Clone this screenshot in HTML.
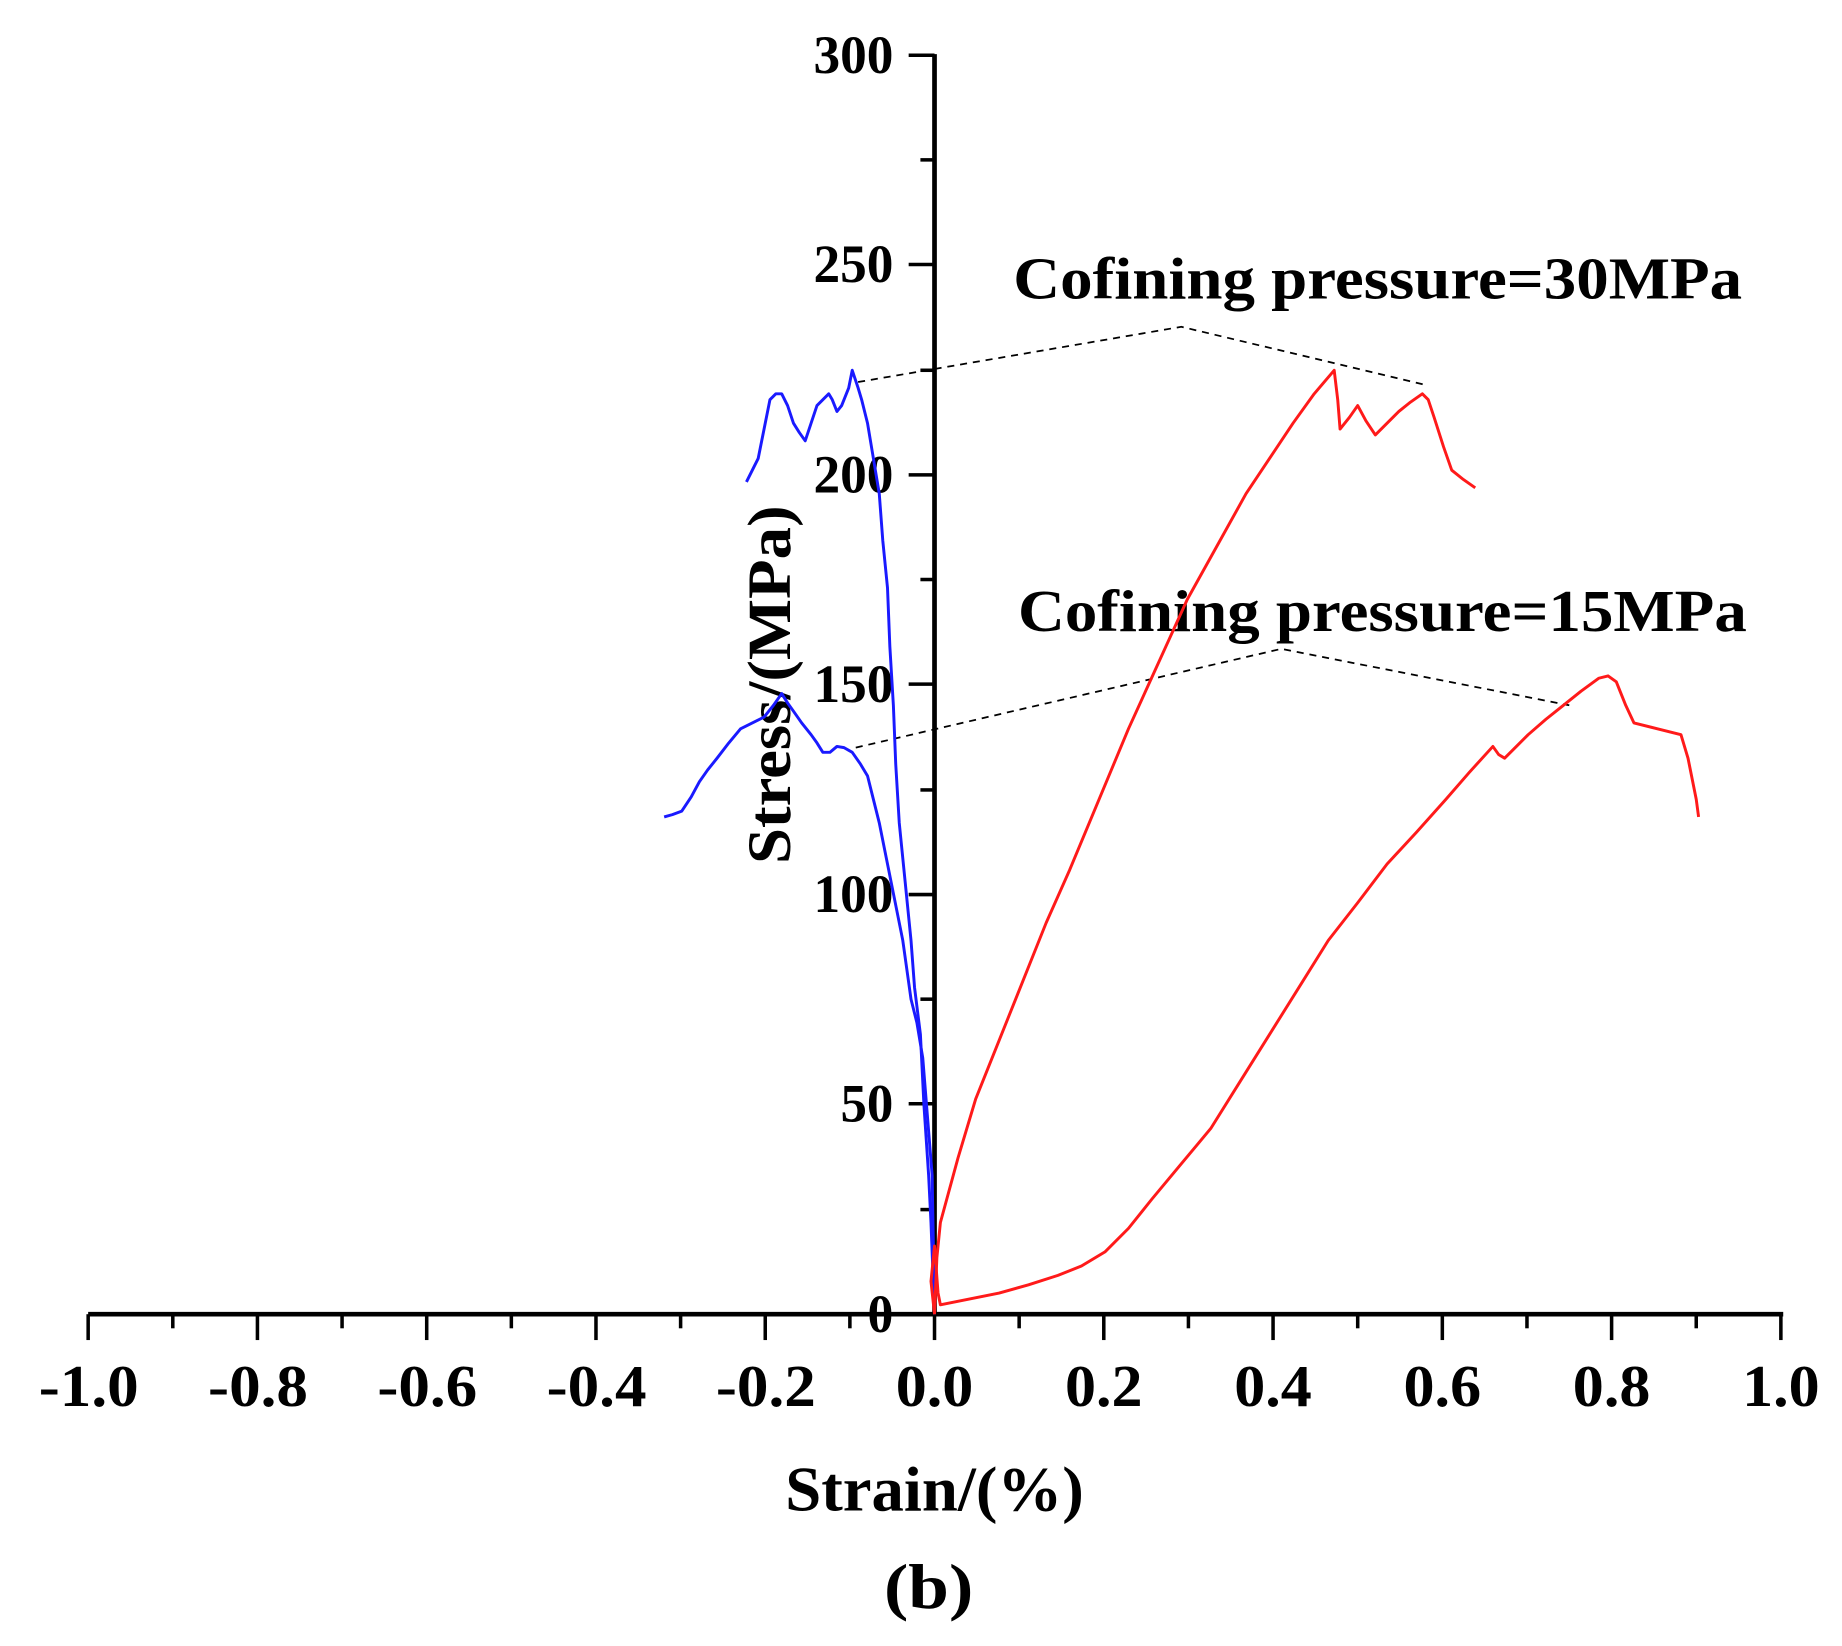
<!DOCTYPE html>
<html><head><meta charset="utf-8"><style>
html,body{margin:0;padding:0;background:#fff;}
svg{display:block;}
text{font-family:"Liberation Serif",serif;font-weight:bold;fill:#000;}
</style></head><body>
<svg width="1842" height="1646" viewBox="0 0 1567 1400" preserveAspectRatio="xMinYMin meet" xmlns="http://www.w3.org/2000/svg">
<rect width="1567" height="1400" fill="#fff"/>
<line x1="75" y1="1118" x2="1517" y2="1118" stroke="#000" stroke-width="4"/>
<line x1="795" y1="46" x2="795" y2="1120" stroke="#000" stroke-width="4"/>
<g stroke="#000" stroke-width="3">
<line x1="75" y1="1118" x2="75" y2="1140"/><line x1="147" y1="1118" x2="147" y2="1130"/>
<line x1="219" y1="1118" x2="219" y2="1140"/><line x1="291" y1="1118" x2="291" y2="1130"/>
<line x1="363" y1="1118" x2="363" y2="1140"/><line x1="435" y1="1118" x2="435" y2="1130"/>
<line x1="507" y1="1118" x2="507" y2="1140"/><line x1="579" y1="1118" x2="579" y2="1130"/>
<line x1="651" y1="1118" x2="651" y2="1140"/><line x1="723" y1="1118" x2="723" y2="1130"/>
<line x1="795" y1="1118" x2="795" y2="1140"/><line x1="867" y1="1118" x2="867" y2="1130"/>
<line x1="939" y1="1118" x2="939" y2="1140"/><line x1="1011" y1="1118" x2="1011" y2="1130"/>
<line x1="1083" y1="1118" x2="1083" y2="1140"/><line x1="1155" y1="1118" x2="1155" y2="1130"/>
<line x1="1227" y1="1118" x2="1227" y2="1140"/><line x1="1299" y1="1118" x2="1299" y2="1130"/>
<line x1="1371" y1="1118" x2="1371" y2="1140"/><line x1="1443" y1="1118" x2="1443" y2="1130"/>
<line x1="1515" y1="1118" x2="1515" y2="1140"/>
<line x1="773" y1="47" x2="795" y2="47"/><line x1="783" y1="136" x2="795" y2="136"/>
<line x1="773" y1="225" x2="795" y2="225"/><line x1="783" y1="315" x2="795" y2="315"/>
<line x1="773" y1="404" x2="795" y2="404"/><line x1="783" y1="493" x2="795" y2="493"/>
<line x1="773" y1="582" x2="795" y2="582"/><line x1="783" y1="672" x2="795" y2="672"/>
<line x1="773" y1="761" x2="795" y2="761"/><line x1="783" y1="850" x2="795" y2="850"/>
<line x1="773" y1="939" x2="795" y2="939"/><line x1="783" y1="1029" x2="795" y2="1029"/>
</g>
<g font-size="50">
<text x="33" y="1196" textLength="85" lengthAdjust="spacingAndGlyphs">-1.0</text>
<text x="177" y="1196" textLength="85" lengthAdjust="spacingAndGlyphs">-0.8</text>
<text x="321" y="1196" textLength="85" lengthAdjust="spacingAndGlyphs">-0.6</text>
<text x="465" y="1196" textLength="85" lengthAdjust="spacingAndGlyphs">-0.4</text>
<text x="609" y="1196" textLength="85" lengthAdjust="spacingAndGlyphs">-0.2</text>
<text x="762" y="1196" textLength="66" lengthAdjust="spacingAndGlyphs">0.0</text>
<text x="906" y="1196" textLength="66" lengthAdjust="spacingAndGlyphs">0.2</text>
<text x="1050" y="1196" textLength="66" lengthAdjust="spacingAndGlyphs">0.4</text>
<text x="1194" y="1196" textLength="66" lengthAdjust="spacingAndGlyphs">0.6</text>
<text x="1338" y="1196" textLength="66" lengthAdjust="spacingAndGlyphs">0.8</text>
<text x="1482" y="1196" textLength="66" lengthAdjust="spacingAndGlyphs">1.0</text>
</g>
<g font-size="46">
<text x="692" y="62" textLength="68" lengthAdjust="spacingAndGlyphs">300</text>
<text x="692" y="240" textLength="68" lengthAdjust="spacingAndGlyphs">250</text>
<text x="692" y="419" textLength="68" lengthAdjust="spacingAndGlyphs">200</text>
<text x="692" y="597" textLength="68" lengthAdjust="spacingAndGlyphs">150</text>
<text x="692" y="776" textLength="68" lengthAdjust="spacingAndGlyphs">100</text>
<text x="715" y="954" textLength="45" lengthAdjust="spacingAndGlyphs">50</text>
<text x="738" y="1133" textLength="22" lengthAdjust="spacingAndGlyphs">0</text>
</g>
<text x="668" y="1285" font-size="54" textLength="254" lengthAdjust="spacingAndGlyphs">Strain/(%)</text>
<text x="752" y="1368" font-size="54" textLength="76" lengthAdjust="spacingAndGlyphs">(b)</text>
<text transform="translate(672,735) rotate(-90)" font-size="52" textLength="305" lengthAdjust="spacingAndGlyphs">Stress/(MPa)</text>
<text x="862" y="254" font-size="50" textLength="620" lengthAdjust="spacingAndGlyphs">Cofining pressure=30MPa</text>
<text x="866" y="537" font-size="50" textLength="620" lengthAdjust="spacingAndGlyphs">Cofining pressure=15MPa</text>
<g stroke="#000" stroke-width="1.5" stroke-dasharray="6,5" fill="none">
<polyline points="730,325 1005,278 1215,328"/>
<polyline points="728,636 1090,552 1335,600"/>
</g>
<g fill="none" stroke-width="2.5" stroke-linejoin="round">
<polyline stroke="#1a1aff" points="795,1118 792,1040 790,1000 786,940 783,880 778,840 775,800 770,750 765,700 762,650 760,600 757,550 755,500 751,460 748,420 743,390 738,360 733,340 730,330 725,315 722,330 720,335 716,345 712,350 708,340 705,335 700,340 695,345 690,360 685,375 680,368 675,360 670,345 665,335 660,335 655,340 650,365 645,390 640,400 635,410"/>
<polyline stroke="#1a1aff" points="795,1118 793,1000 789,950 785,900 780,870 775,850 768,800 760,760 754,730 748,700 743,680 738,660 732,650 725,640 718,636 712,635 706,640 700,640 695,632 690,625 682,615 675,605 670,598 665,590 658,600 650,610 640,615 630,620 620,632 610,645 602,655 595,665 588,678 580,690 572,693 565,695"/>
<polyline stroke="#ff1a1a" points="795,1118 797,1070 800,1040 815,985 830,935 850,885 870,835 890,785 910,740 935,680 960,620 985,565 1010,510 1035,465 1060,420 1080,390 1100,360 1118,335 1135,315 1138,340 1140,365 1148,355 1155,345 1162,358 1170,370 1180,360 1190,350 1200,342 1210,335 1215,340 1220,355 1228,380 1235,400 1245,408 1255,415"/>
<polyline stroke="#ff1a1a" points="795,1118 792,1090 795,1060 798,1100 800,1110 825,1105 850,1100 875,1093 900,1085 920,1077 940,1065 960,1045 980,1020 1005,990 1030,960 1055,920 1080,880 1105,840 1130,800 1155,768 1180,735 1205,708 1230,680 1250,657 1270,635 1275,642 1280,645 1290,635 1300,625 1315,612 1330,600 1345,588 1360,577 1368,575 1375,580 1383,600 1390,615 1410,620 1430,625 1436,645 1440,665 1443,680 1445,695"/>
</g>
</svg>
</body></html>
